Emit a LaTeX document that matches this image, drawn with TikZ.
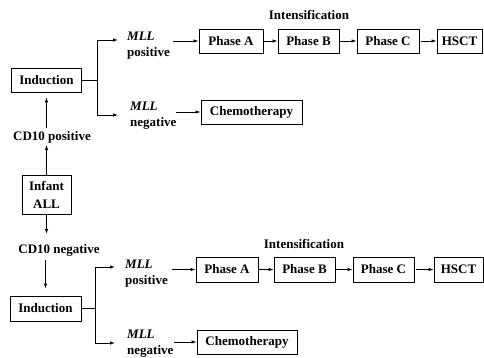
\documentclass[tikz,border=0pt]{standalone}
\usepackage{fontspec}
\setmainfont{Liberation Serif}
\usetikzlibrary{arrows.meta}
\tikzset{
  box/.style={draw, line width=0.9pt, inner sep=0pt, minimum height=24pt, font=\fontsize{13}{15}\selectfont\bfseries},
  lbl/.style={inner sep=0pt, font=\fontsize{13}{15}\selectfont\bfseries},
  mll/.style={inner sep=0pt, anchor=west, align=left, text width=46pt, font=\fontsize{13}{16}\selectfont\bfseries},
  arr/.style={line width=0.8pt, -{Latex[length=5pt,width=3.5pt]}},
  ln/.style={line width=0.8pt}
}
\newcommand{\mllt}{\textit{MLL}}
\begin{document}
\begin{tikzpicture}[x=1pt,y=-1pt]
\useasboundingbox (0,0) rectangle (484,358);
% left column
\node[box, minimum width=70pt] (ind1) at (46.5,80) {Induction};
\node[lbl] (cdp) at (52,137) {CD10 positive};
\node[box, minimum width=49pt, minimum height=39pt, align=center, font=\fontsize{13}{18}\selectfont\bfseries] (inf) at (46.5,194.5) {Infant\\ALL};
\node[lbl] (cdn) at (59,250) {CD10 negative};
\node[box, minimum width=71pt, minimum height=25pt] (ind2) at (45.5,308.5) {Induction};
\draw[arr, shorten >=2pt] (inf.north) -- (inf.north |- cdp.south);
\draw[arr, shorten <=3pt, shorten >=5pt] (ind1.south |- cdp.north) -- (ind1.south);
\draw[arr, shorten >=10pt] (inf.south) -- (inf.south |- cdn.north);
\draw[arr, shorten <=4pt, shorten >=7pt] (ind2.north |- cdn.south) -- (ind2.north);
% top branch
\node[mll] (mlp1) at (127,46) {\mllt\\positive};
\node[mll] (mln1) at (130,116) {\mllt\\negative};
\coordinate (br1) at (97,80);
\draw[ln] (ind1.east) -- (br1);
\draw[arr] (br1) |- ([xshift=-9pt]mlp1.west |- 0,40);
\draw[arr] (br1) |- ([xshift=-12pt]mln1.west |- 0,115);
\node[box, minimum width=64pt] (pa1) at (231,41) {Phase A};
\node[box, minimum width=61pt] (pb1) at (308.5,41) {Phase B};
\node[box, minimum width=62pt] (pc1) at (388,41) {Phase C};
\node[box, minimum width=45pt] (hs1) at (459.5,41) {HSCT};
\node[box, minimum width=101pt] (ch1) at (251.5,112) {Chemotherapy};
\node[lbl] (int1) at (309,15) {Intensification};
\draw[arr] (mlp1.east |- pa1.west) -- (pa1.west);
\draw[arr] (mln1.east |- ch1.west) -- (ch1.west);
\draw[arr] (pa1) -- (pb1);
\draw[arr] (pb1) -- (pc1);
\draw[arr, shorten <=2pt] (pc1) -- (hs1);
% bottom branch
\node[mll] (mlp2) at (125,274) {\mllt\\positive};
\node[mll] (mln2) at (127,344) {\mllt\\negative};
\coordinate (br2) at (95,308.5);
\draw[ln] (ind2.east) -- (br2);
\draw[arr] (br2) |- ([xshift=-10pt]mlp2.west |- 0,267);
\draw[arr] (br2) |- ([xshift=-12pt]mln2.west |- 0,343);
\node[box, minimum width=62pt, minimum height=25pt] (pa2) at (227,269.5) {Phase A};
\node[box, minimum width=61pt, minimum height=25pt] (pb2) at (304.5,269.5) {Phase B};
\node[box, minimum width=61pt, minimum height=25pt] (pc2) at (383.5,269.5) {Phase C};
\node[box, minimum width=49pt, minimum height=25pt] (hs2) at (458.5,269.5) {HSCT};
\node[box, minimum width=100pt] (ch2) at (247,342) {Chemotherapy};
\node[lbl] (int2) at (304,244) {Intensification};
\draw[arr, shorten <=1pt] (mlp2.east |- pa2.west) -- (pa2.west);
\draw[arr, shorten <=1pt] (mln2.east |- ch2.west) -- (ch2.west);
\draw[arr] (pa2) -- (pb2);
\draw[arr] (pb2) -- (pc2);
\draw[arr, shorten <=2pt] (pc2) -- (hs2);
\end{tikzpicture}
\end{document}
